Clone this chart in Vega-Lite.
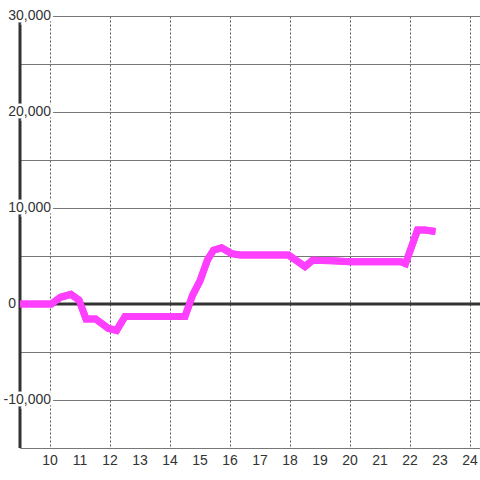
{
  "$schema": "https://vega.github.io/schema/vega-lite/v6.json",
  "width": 460,
  "height": 432,
  "autosize": {"type": "none"},
  "padding": {"left": 20, "top": 16, "right": 0, "bottom": 32},
  "background": "white",
  "config": {"view": {"stroke": null}, "font": "Liberation Sans"},
  "datasets": {
    "series": [
      {"hour": 9, "value": 0},
      {"hour": 10.05, "value": 0},
      {"hour": 10.35, "value": 700},
      {"hour": 10.7, "value": 1000},
      {"hour": 10.97, "value": 400},
      {"hour": 11.2, "value": -1550},
      {"hour": 11.52, "value": -1550},
      {"hour": 11.95, "value": -2550},
      {"hour": 12.22, "value": -2750},
      {"hour": 12.5, "value": -1300},
      {"hour": 14.5, "value": -1300},
      {"hour": 14.75, "value": 900},
      {"hour": 15.0, "value": 2400},
      {"hour": 15.25, "value": 4600},
      {"hour": 15.45, "value": 5600},
      {"hour": 15.72, "value": 5850},
      {"hour": 16.05, "value": 5250},
      {"hour": 16.35, "value": 5100},
      {"hour": 17.95, "value": 5100},
      {"hour": 18.5, "value": 3900},
      {"hour": 18.75, "value": 4550},
      {"hour": 19.4, "value": 4500},
      {"hour": 20.0, "value": 4400},
      {"hour": 21.7, "value": 4400},
      {"hour": 21.85, "value": 4200},
      {"hour": 22.25, "value": 7700},
      {"hour": 22.5, "value": 7700},
      {"hour": 22.85, "value": 7550}
    ],
    "ylabels": [
      {"v": 30000, "t": "30,000"},
      {"v": 20000, "t": "20,000"},
      {"v": 10000, "t": "10,000"},
      {"v": -10000, "t": "-10,000"}
    ],
    "zero": [{"v": 0, "t": "0"}],
    "xlabels": [
      {"h": 10}, {"h": 11}, {"h": 12}, {"h": 13}, {"h": 14}, {"h": 15}, {"h": 16}, {"h": 17},
      {"h": 18}, {"h": 19}, {"h": 20}, {"h": 21}, {"h": 22}, {"h": 23}, {"h": 24}
    ]
  },
  "layer": [
    {
      "data": {"name": "series"},
      "mark": {"type": "line", "color": "#ff3fff", "strokeWidth": 7, "clip": true},
      "encoding": {
        "x": {
          "field": "hour",
          "type": "quantitative",
          "scale": {"domain": [9, 24.333], "nice": false, "zero": false},
          "axis": {
            "values": [10, 11, 12, 13, 14, 15, 16, 17, 18, 19, 20, 21, 22, 23, 24],
            "grid": true,
            "gridDash": [2, 2],
            "gridColor": "#555",
            "gridOpacity": 1,
            "domainColor": "#777",
            "ticks": false,
            "labels": false,
            "title": null
          }
        },
        "y": {
          "field": "value",
          "type": "quantitative",
          "scale": {"domain": [-15000, 30000], "nice": false},
          "axis": {
            "values": [-15000, -10000, -5000, 0, 5000, 10000, 15000, 20000, 25000, 30000],
            "grid": true,
            "gridColor": "#777",
            "gridOpacity": 1,
            "labels": false,
            "ticks": false,
            "domain": false,
            "title": null
          }
        }
      }
    },
    {
      "data": {"values": [{}]},
      "mark": {"type": "rule", "color": "#333", "strokeWidth": 3},
      "encoding": {"y": {"datum": 0, "type": "quantitative"}}
    },
    {
      "data": {"values": [{}]},
      "mark": {"type": "rule", "color": "#333", "strokeWidth": 3},
      "encoding": {"x": {"datum": 9, "type": "quantitative"}}
    },
    {
      "data": {"name": "series"},
      "mark": {"type": "line", "color": "#ff3fff", "strokeWidth": 7, "clip": true},
      "encoding": {
        "x": {"field": "hour", "type": "quantitative"},
        "y": {"field": "value", "type": "quantitative"}
      }
    },
    {
      "data": {"name": "xlabels"},
      "mark": {"type": "text", "align": "center", "baseline": "top", "dy": 6, "fontSize": 14, "fill": "#333"},
      "encoding": {
        "x": {"field": "h", "type": "quantitative"},
        "y": {"datum": -15000, "type": "quantitative"},
        "text": {"field": "h", "type": "quantitative"}
      }
    },
    {
      "data": {"name": "ylabels"},
      "mark": {"type": "text", "align": "right", "baseline": "middle", "dx": 31, "fontSize": 14, "fill": "white", "stroke": "white", "strokeWidth": 5},
      "encoding": {
        "x": {"datum": 9, "type": "quantitative"},
        "y": {"field": "v", "type": "quantitative"},
        "text": {"field": "t"}
      }
    },
    {
      "data": {"name": "ylabels"},
      "mark": {"type": "text", "align": "right", "baseline": "middle", "dx": 31, "fontSize": 14, "fill": "#333"},
      "encoding": {
        "x": {"datum": 9, "type": "quantitative"},
        "y": {"field": "v", "type": "quantitative"},
        "text": {"field": "t"}
      }
    },
    {
      "data": {"name": "zero"},
      "mark": {"type": "text", "align": "right", "baseline": "middle", "dx": -4, "fontSize": 14, "fill": "#333"},
      "encoding": {
        "x": {"datum": 9, "type": "quantitative"},
        "y": {"field": "v", "type": "quantitative"},
        "text": {"field": "t"}
      }
    }
  ]
}
